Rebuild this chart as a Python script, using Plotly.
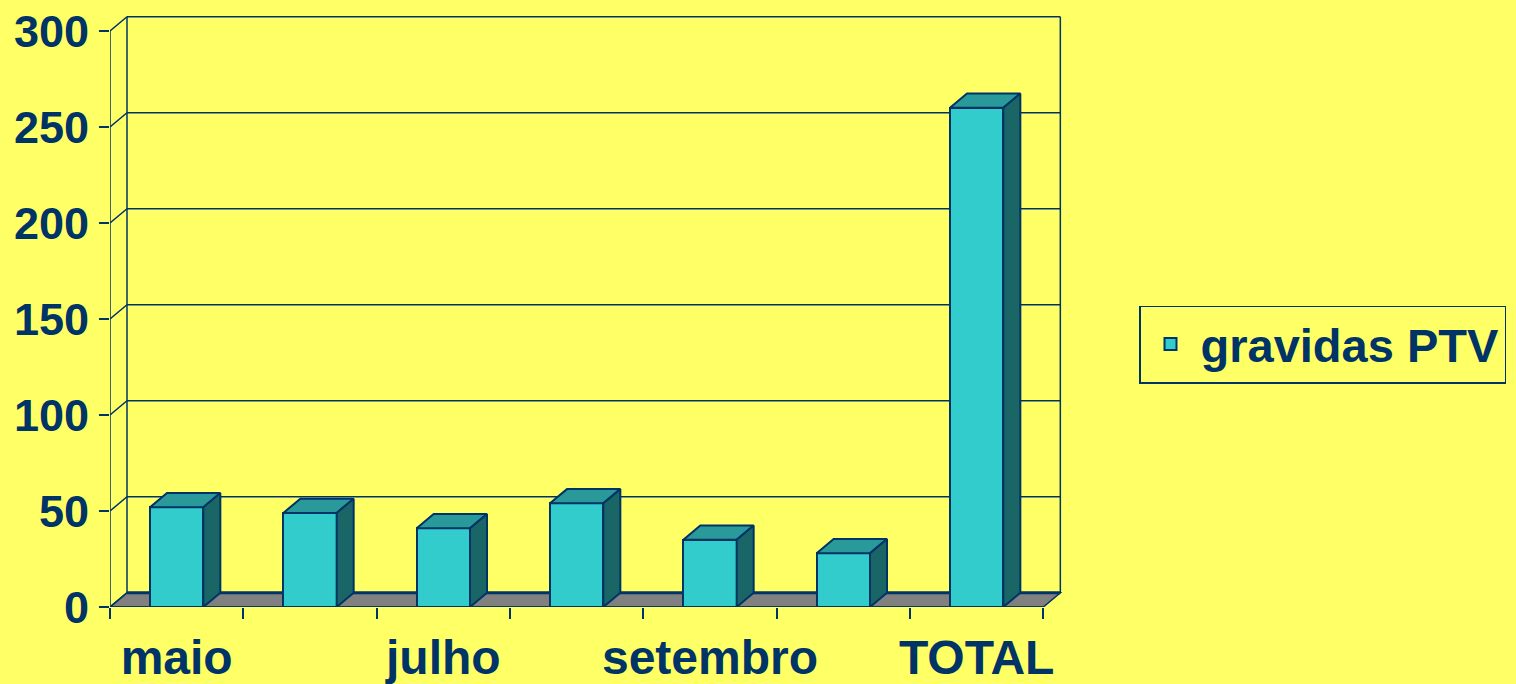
import plotly.graph_objects as go

categories = ["maio", "junho", "julho", "agosto", "setembro", "outubro", "TOTAL"]
values = [52, 49, 41, 54, 35, 28, 260]
series_name = "gravidas PTV"
y_ticks = [0, 50, 100, 150, 200, 250, 300]

NAVY = "#003366"
BG = "#FFFF66"
FRONT = "#33CCCC"
TOP = "#2A9999"
SIDE = "#1A6666"
FLOOR = "#808080"

DX = 0.1275   # depth offset in x data units
DY = 7.4      # depth offset in y data units
HW = 0.2      # half bar width
n = len(categories)
xs = list(range(n))
x0, x1 = -0.5, n - 0.5
ymax = y_ticks[-1]

fig = go.Figure()

# front faces
fig.add_trace(go.Bar(
    x=xs, y=values, width=2 * HW, name=series_name,
    marker=dict(color=FRONT, line=dict(color=NAVY, width=2)),
    showlegend=True,
))

# top and side faces
for c, v in zip(xs, values):
    fig.add_trace(go.Scatter(
        x=[c - HW, c + HW, c + HW + DX, c - HW + DX, c - HW],
        y=[v, v, v + DY, v + DY, v],
        fill="toself", fillcolor=TOP, mode="lines",
        line=dict(color=NAVY, width=2), showlegend=False, hoverinfo="skip"))
    fig.add_trace(go.Scatter(
        x=[c + HW, c + HW + DX, c + HW + DX, c + HW, c + HW],
        y=[0, DY, v + DY, v, 0],
        fill="toself", fillcolor=SIDE, mode="lines",
        line=dict(color=NAVY, width=2), showlegend=False, hoverinfo="skip"))

shapes = []
# floor
shapes.append(dict(type="path", layer="below", xref="x", yref="y",
                   path=f"M{x0},0 L{x1},0 L{x1+DX},{DY} L{x0+DX},{DY} Z",
                   fillcolor=FLOOR, line=dict(color=NAVY, width=1.5)))
# back floor edge (thick)
shapes.append(dict(type="line", layer="below", xref="x", yref="y",
                   x0=x0 + DX, x1=x1 + DX, y0=DY, y1=DY,
                   line=dict(color=NAVY, width=3)))
# back wall gridlines and side diagonals
for t in y_ticks[1:]:
    shapes.append(dict(type="line", layer="below", xref="x", yref="y",
                       x0=x0 + DX, x1=x1 + DX, y0=t + DY, y1=t + DY,
                       line=dict(color=NAVY, width=1.5)))
for t in y_ticks:
    shapes.append(dict(type="line", layer="below", xref="x", yref="y",
                       x0=x0, x1=x0 + DX, y0=t, y1=t + DY,
                       line=dict(color=NAVY, width=1.5)))
# back wall verticals
for xx in (x0 + DX, x1 + DX):
    shapes.append(dict(type="line", layer="below", xref="x", yref="y",
                       x0=xx, x1=xx, y0=DY, y1=ymax + DY,
                       line=dict(color=NAVY, width=1.5)))
# front y axis line
shapes.append(dict(type="line", layer="below", xref="x", yref="y",
                   x0=x0, x1=x0, y0=0, y1=ymax,
                   line=dict(color=NAVY, width=1.5)))
# front x axis line
shapes.append(dict(type="line", layer="above", xref="x", yref="y",
                   x0=x0, x1=x1, y0=0, y1=0,
                   line=dict(color=NAVY, width=1.5)))

W, H = 1516, 684
L, R, T, B = 110, 446, 15, 77
plot_w = W - L - R
px_per_x = 133.333
px_per_y = 1.92
x_range = [x0, x0 + plot_w / px_per_x]
y_range = [0, (H - T - B) / px_per_y]

font_y = dict(family="Liberation Sans, Arial, sans-serif", size=45, color=NAVY, weight="bold")
font_x = dict(family="Liberation Sans, Arial, sans-serif", size=48, color=NAVY, weight="bold")
font_leg = dict(family="Liberation Sans, Arial, sans-serif", size=47, color=NAVY, weight="bold")

fig.update_layout(
    width=W, height=H,
    margin=dict(l=L, r=R, t=T, b=B, pad=0, autoexpand=False),
    paper_bgcolor=BG, plot_bgcolor=BG,
    shapes=shapes,
    bargap=0,
    xaxis=dict(range=x_range, showgrid=False, zeroline=False, showline=False,
               automargin=False,
               tickmode="array", tickvals=xs[::2], ticktext=categories[::2],
               ticks="", tickfont=font_x, ticklabelstandoff=18,
               minor=dict(tickmode="array", tickvals=[x0 + i for i in range(n + 1)],
                          ticks="outside", ticklen=11, tickwidth=1.5, tickcolor=NAVY,
                          showgrid=False),
               fixedrange=True),
    yaxis=dict(range=y_range, showgrid=False, zeroline=False, showline=False,
               automargin=False,
               tickmode="array", tickvals=y_ticks, ticks="outside", ticklen=10,
               tickwidth=1.5, tickcolor=NAVY, tickfont=font_y,
               ticklabelstandoff=1, fixedrange=True),
    legend=dict(x=(1139 - L) / plot_w, xanchor="left",
                y=0.4434, yanchor="middle",
                bgcolor=BG, bordercolor=NAVY, borderwidth=1.5,
                font=font_leg, itemsizing="constant", itemwidth=50),
    showlegend=True,
)

fig.write_html("out.html")
